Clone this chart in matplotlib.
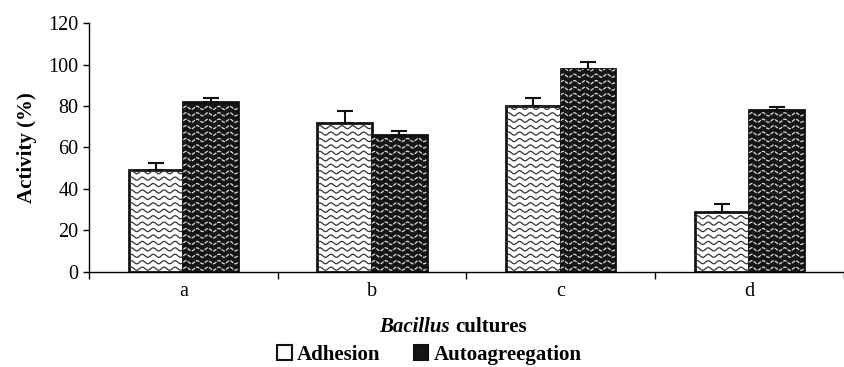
import matplotlib.pyplot as plt
import numpy as np
from matplotlib.patches import Patch

# data
cultures = ['a', 'b', 'c', 'd']
adhesion = [49, 72, 80, 29]
adhesion_err = [3.5, 5.5, 4, 4]
autoagg = [82, 66, 98, 78]
autoagg_err = [2, 2, 3, 1.5]

plt.rcParams['font.family'] = 'Liberation Serif'

fig = plt.figure(figsize=(8.45, 3.67), dpi=100)
ax = fig.add_axes([0.1053, 0.2589, 0.893, 0.6784])

x = np.arange(len(cultures))
w = 0.29

bars1 = ax.bar(x - w / 2, adhesion, w, color='white', edgecolor='#111111',
               linewidth=2, zorder=2)
bars2 = ax.bar(x + w / 2, autoagg, w, color='#151515', edgecolor='#111111',
               linewidth=2, zorder=2)
ax.errorbar(x - w / 2, adhesion, yerr=[np.zeros(4), adhesion_err], fmt='none',
            ecolor='#111111', elinewidth=1.5, capsize=6, capthick=1.5, zorder=1)
ax.errorbar(x + w / 2, autoagg, yerr=[np.zeros(4), autoagg_err], fmt='none',
            ecolor='#111111', elinewidth=1.5, capsize=6, capthick=1.5, zorder=1)


# wavy fill pattern, clipped to each bar
def wave_fill(rects, color, lw, ls):
    period = 0.058
    amp = 0.75
    step = 3.1
    for r in rects:
        x0, w0, h = r.get_x(), r.get_width(), r.get_height()
        xs = np.linspace(x0, x0 + w0, 300)
        for y in np.arange(1.6, h, step):
            ys = y + amp * np.sin(2 * np.pi * (xs - x0) / period)
            ln, = ax.plot(xs, ys, color=color, lw=lw, ls=ls, zorder=2.5)
            ln.set_clip_path(r)


wave_fill(bars1, '#333333', 0.9, '-')
wave_fill(bars2, '#dddddd', 0.9, (0, (3, 1)))

ax.set_xlim(-0.5, 3.5)
ax.set_ylim(0, 120)
ax.set_yticks(range(0, 121, 20))
ax.tick_params(axis='y', labelsize=14.5, direction='out', length=4, width=1)
ax.set_xticks(x)
ax.set_xticklabels(cultures, fontsize=14.5)
ax.tick_params(axis='x', length=0, pad=7)
ax.set_xticks(np.arange(-0.5, 3.6, 1), minor=True)
ax.tick_params(axis='x', which='minor', direction='out', length=5, width=1)

for s in ['top', 'right']:
    ax.spines[s].set_visible(False)
ax.spines['left'].set_linewidth(1)
ax.spines['bottom'].set_linewidth(1)

ax.set_ylabel('Activity (%)', fontsize=15, fontweight='bold', labelpad=8)

ax.text(0.485, -0.22, 'Bacillus ', transform=ax.transAxes, ha='right',
        va='center', fontsize=15, fontweight='bold', fontstyle='italic')
ax.text(0.485, -0.22, 'cultures', transform=ax.transAxes, ha='left',
        va='center', fontsize=15, fontweight='bold')

handles = [Patch(facecolor='white', edgecolor='#111111', linewidth=1.5),
           Patch(facecolor='#151515', edgecolor='#111111', linewidth=1.5)]
leg = fig.legend(handles, ['Adhesion', 'Autoagreegation'], loc='center',
                 bbox_to_anchor=(0.508, 0.033), ncol=2, frameon=False,
                 prop={'weight': 'bold', 'size': 15}, handlelength=0.7,
                 handleheight=0.7, handletextpad=0.25, columnspacing=1.6)

fig.savefig('out.png', dpi=100)
